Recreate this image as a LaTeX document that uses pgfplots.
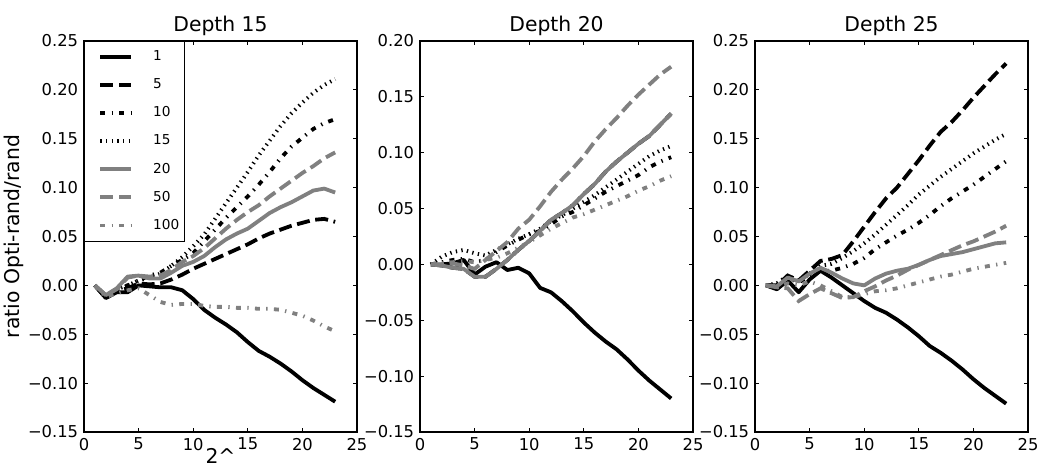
\documentclass[border=0pt]{standalone}
\usepackage{fontspec}
\setmainfont{DejaVu Sans}
\usepackage{pgfplots}
\pgfplotsset{compat=1.18}
\usepackage{pgfplotstable}
\definecolor{mgray}{RGB}{128,128,128}

\pgfplotstableread{
x s1 s5 s10 s15 s20 s50 s100
1 0 0 0 0 0 0 0
2 -0.013 -0.013 -0.012 -0.012 -0.010 -0.010 -0.012
3 -0.007 -0.006 -0.005 -0.004 -0.003 -0.004 -0.008
4 -0.007 -0.003 0.000 0.000 0.009 0.008 -0.005
5 0.000 0.002 0.005 0.005 0.010 0.010 -0.003
6 -0.001 0.001 0.010 0.008 0.007 0.009 -0.010
7 -0.002 0.002 0.013 0.012 0.007 0.010 -0.017
8 -0.002 0.006 0.020 0.020 0.013 0.016 -0.020
9 -0.005 0.011 0.026 0.029 0.020 0.024 -0.019
10 -0.014 0.017 0.033 0.040 0.024 0.030 -0.019
11 -0.025 0.022 0.045 0.052 0.030 0.038 -0.021
12 -0.033 0.027 0.057 0.068 0.039 0.048 -0.022
13 -0.040 0.032 0.069 0.084 0.047 0.058 -0.022
14 -0.048 0.037 0.080 0.100 0.053 0.067 -0.023
15 -0.058 0.042 0.091 0.116 0.058 0.075 -0.023
16 -0.067 0.048 0.103 0.133 0.066 0.082 -0.024
17 -0.073 0.053 0.116 0.148 0.074 0.091 -0.024
18 -0.080 0.057 0.130 0.163 0.080 0.099 -0.025
19 -0.088 0.061 0.142 0.176 0.085 0.107 -0.028
20 -0.097 0.064 0.151 0.187 0.091 0.115 -0.031
21 -0.105 0.067 0.160 0.197 0.097 0.122 -0.036
22 -0.112 0.068 0.166 0.205 0.099 0.130 -0.042
23 -0.119 0.065 0.170 0.211 0.095 0.136 -0.047
}\depthA

\pgfplotstableread{
x s1 s5 s10 s15 s20 s50 s100
1 0 0 0 0 0 0 0
2 0.000 -0.001 0.002 0.007 -0.001 0.000 0.001
3 0.001 -0.003 0.004 0.011 -0.003 0.001 0.002
4 0.004 -0.004 0.005 0.013 -0.004 -0.001 0.003
5 -0.009 -0.011 0.002 0.010 -0.011 -0.004 0.002
6 -0.002 -0.011 0.004 0.008 -0.011 0.004 0.004
7 0.002 -0.004 0.011 0.013 -0.004 0.012 0.006
8 -0.005 0.004 0.017 0.018 0.004 0.020 0.010
9 -0.003 0.013 0.022 0.023 0.013 0.032 0.015
10 -0.008 0.021 0.027 0.027 0.021 0.040 0.020
11 -0.021 0.030 0.030 0.032 0.030 0.052 0.026
12 -0.025 0.040 0.036 0.039 0.040 0.065 0.032
13 -0.033 0.046 0.043 0.044 0.046 0.076 0.037
14 -0.042 0.053 0.047 0.050 0.053 0.086 0.042
15 -0.052 0.063 0.053 0.056 0.063 0.097 0.045
16 -0.061 0.072 0.059 0.062 0.072 0.110 0.049
17 -0.069 0.083 0.065 0.069 0.083 0.121 0.053
18 -0.076 0.092 0.070 0.076 0.092 0.131 0.057
19 -0.085 0.100 0.075 0.083 0.100 0.142 0.061
20 -0.095 0.108 0.080 0.090 0.108 0.152 0.066
21 -0.104 0.115 0.087 0.097 0.115 0.161 0.070
22 -0.112 0.125 0.092 0.102 0.125 0.170 0.075
23 -0.120 0.135 0.096 0.106 0.135 0.177 0.079
}\depthB

\pgfplotstableread{
x s1 s5 s10 s15 s20 s50 s100
1 0 0 0 0 0 0 0
2 -0.004 0.000 0.000 0.002 -0.001 -0.002 -0.002
3 0.005 0.010 0.008 0.010 0.008 -0.003 0.002
4 -0.007 0.005 0.003 0.004 0.004 -0.016 0.000
5 0.006 0.015 0.010 0.012 0.012 -0.009 0.004
6 0.015 0.025 0.015 0.020 0.018 -0.003 0.000
7 0.008 0.027 0.015 0.022 0.013 -0.008 -0.006
8 0.000 0.031 0.018 0.028 0.007 -0.013 -0.012
9 -0.008 0.045 0.022 0.035 0.002 -0.012 -0.012
10 -0.016 0.060 0.028 0.043 0.000 -0.006 -0.009
11 -0.023 0.075 0.037 0.052 0.007 -0.001 -0.006
12 -0.028 0.089 0.044 0.062 0.012 0.005 -0.005
13 -0.035 0.100 0.051 0.072 0.015 0.010 -0.003
14 -0.043 0.114 0.057 0.082 0.017 0.016 0.000
15 -0.052 0.128 0.064 0.093 0.021 0.021 0.003
16 -0.062 0.143 0.072 0.102 0.026 0.026 0.006
17 -0.069 0.157 0.081 0.111 0.030 0.031 0.009
18 -0.077 0.167 0.089 0.119 0.032 0.036 0.011
19 -0.086 0.179 0.096 0.127 0.034 0.041 0.014
20 -0.096 0.192 0.103 0.135 0.037 0.045 0.017
21 -0.105 0.204 0.111 0.142 0.040 0.050 0.019
22 -0.113 0.216 0.119 0.149 0.043 0.055 0.021
23 -0.121 0.227 0.127 0.155 0.044 0.061 0.023
}\depthC

\pgfplotsset{
  s1/.style={black, solid, line width=2.3pt, line join=round},
  s5/.style={black, line width=2.3pt, dash pattern=on 7.8pt off 3.4pt},
  s10/.style={black, line width=2.3pt, dash pattern=on 3pt off 3.8pt on 0.8pt off 3.8pt},
  s15/.style={black, line width=2.3pt, dash pattern=on 0.8pt off 2.6pt},
  s20/.style={mgray, solid, line width=2.3pt, line join=round},
  s50/.style={mgray, line width=2.3pt, dash pattern=on 7.8pt off 3.4pt},
  s100/.style={mgray, line width=2.3pt, dash pattern=on 3pt off 3.8pt on 0.8pt off 3.8pt},
  panel/.style={
    scale only axis, width=163.8pt, height=234.6pt,
    anchor=south west,
    xmin=0, xmax=25,
    xtick={0,5,10,15,20,25}, xticklabels={0,5,10,15,20,25},
    tick align=inside, major tick length=2.6pt,
    tick style={black, line width=0.6pt},
    axis line style={line width=0.9pt},
    ticklabel style={font=\fontsize{9.8}{11}\selectfont},
    title style={font=\fontsize{12.2}{14}\selectfont, at={(0.5,1)}, anchor=base, yshift=-0.6pt},
  },
  wide/.style={ymin=-0.15, ymax=0.25,
    ytick={-0.15,-0.1,-0.05,0,0.05,0.1,0.15,0.2,0.25},
    yticklabels={−0.15,−0.10,−0.05,0.00,0.05,0.10,0.15,0.20,0.25}},
}

\begin{document}
\begin{tikzpicture}
\useasboundingbox (0,0) rectangle (624pt,282.6pt);
\begin{axis}[panel, wide, at={(50.4pt,23.4pt)}, title={Depth 15},
  xlabel={2\textasciicircum}, ylabel={ratio Opti-rand/rand},
  xlabel style={font=\fontsize{12.2}{14}\selectfont, at={(axis description cs:0.5,0)}, anchor=base, yshift=-19pt},
  ylabel style={font=\fontsize{12.2}{14}\selectfont, at={(axis description cs:-0.238,0.5)}, anchor=base},
  legend style={at={(0,1)}, anchor=north west, draw=black, line width=0.6pt, fill=white,
    font=\fontsize{8.2}{9}\selectfont, inner xsep=1pt, inner ysep=3.6pt, row sep=5.3pt,
    cells={anchor=west},
    /tikz/every odd column/.style={column sep=9.9pt}},
  legend image code/.code={\path (0pt,0pt); \draw[#1] (7.4pt,0pt) -- (26pt,0pt);},
]
\addplot[s1] table[x=x,y=s1] {\depthA}; \addlegendentry{1}
\addplot[s5] table[x=x,y=s5] {\depthA}; \addlegendentry{5}
\addplot[s10] table[x=x,y=s10] {\depthA}; \addlegendentry{10}
\addplot[s15] table[x=x,y=s15] {\depthA}; \addlegendentry{15}
\addplot[s20] table[x=x,y=s20] {\depthA}; \addlegendentry{20}
\addplot[s50] table[x=x,y=s50] {\depthA}; \addlegendentry{50}
\addplot[s100] table[x=x,y=s100] {\depthA}; \addlegendentry{100}
\end{axis}
\begin{axis}[panel, at={(252pt,23.4pt)}, title={Depth 20},
  ymin=-0.15, ymax=0.20,
  ytick={-0.15,-0.1,-0.05,0,0.05,0.1,0.15,0.2},
  yticklabels={−0.15,−0.10,−0.05,0.00,0.05,0.10,0.15,0.20}]
\addplot[s1] table[x=x,y=s1] {\depthB};
\addplot[s5] table[x=x,y=s5] {\depthB};
\addplot[s10] table[x=x,y=s10] {\depthB};
\addplot[s15] table[x=x,y=s15] {\depthB};
\addplot[s20] table[x=x,y=s20] {\depthB};
\addplot[s50] table[x=x,y=s50] {\depthB};
\addplot[s100] table[x=x,y=s100] {\depthB};
\end{axis}
\begin{axis}[panel, wide, at={(453pt,23.4pt)}, title={Depth 25}]
\addplot[s1] table[x=x,y=s1] {\depthC};
\addplot[s5] table[x=x,y=s5] {\depthC};
\addplot[s10] table[x=x,y=s10] {\depthC};
\addplot[s15] table[x=x,y=s15] {\depthC};
\addplot[s20] table[x=x,y=s20] {\depthC};
\addplot[s50] table[x=x,y=s50] {\depthC};
\addplot[s100] table[x=x,y=s100] {\depthC};
\end{axis}
\end{tikzpicture}
\end{document}
